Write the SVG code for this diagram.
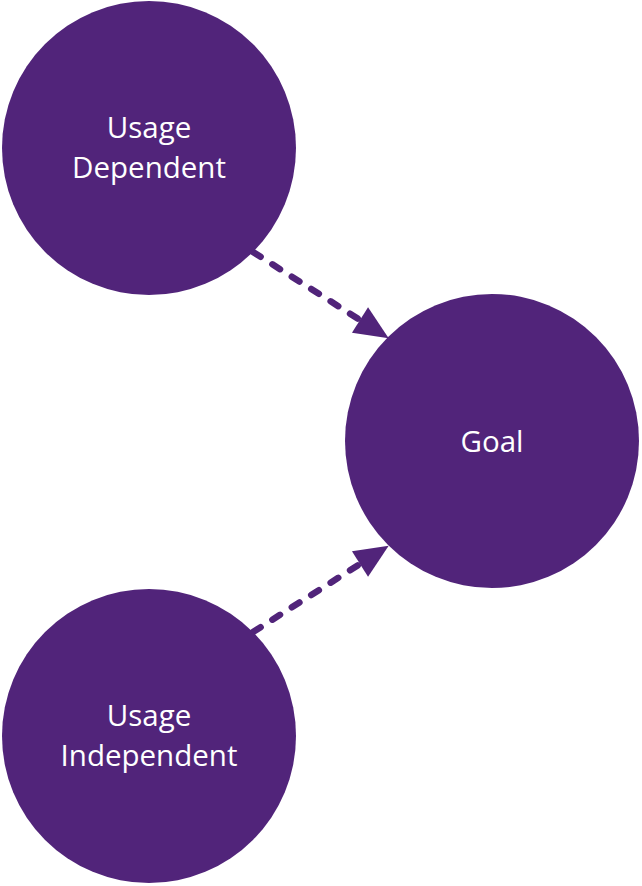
<svg xmlns="http://www.w3.org/2000/svg" width="642" height="886" viewBox="0 0 642 886">
  <style>
    .node { fill: #51247a; }
    .label { fill: #ffffff; font-family: "Open Sans", "Noto Sans", sans-serif; font-size: 29.5px; text-anchor: middle; }
    .link { fill: none; stroke: #51247a; stroke-width: 6.5; stroke-linecap: round; stroke-dasharray: 9 14; }
  </style>
  <defs>
    <marker id="arrowhead" markerUnits="userSpaceOnUse" markerWidth="34" markerHeight="32" viewBox="0 0 34 32" refX="0" refY="16" orient="auto" overflow="visible">
      <path d="M0,1 L34,16 L0,31 z" fill="#51247a"/>
    </marker>
  </defs>

  <g id="connectors">
    <line class="link" x1="253" y1="252" x2="360" y2="320" marker-end="url(#arrowhead)"/>
    <line class="link" x1="253" y1="632" x2="360" y2="564" marker-end="url(#arrowhead)"/>
  </g>

  <g id="usage-dependent">
    <circle class="node" cx="149" cy="148" r="147"/>
    <text class="label" x="149" y="138">Usage</text>
    <text class="label" x="149" y="178">Dependent</text>
  </g>

  <g id="goal">
    <circle class="node" cx="492" cy="441" r="147"/>
    <text class="label" x="492" y="452">Goal</text>
  </g>

  <g id="usage-independent">
    <circle class="node" cx="149" cy="736" r="147"/>
    <text class="label" x="149" y="726">Usage</text>
    <text class="label" x="149" y="766">Independent</text>
  </g>
</svg>
